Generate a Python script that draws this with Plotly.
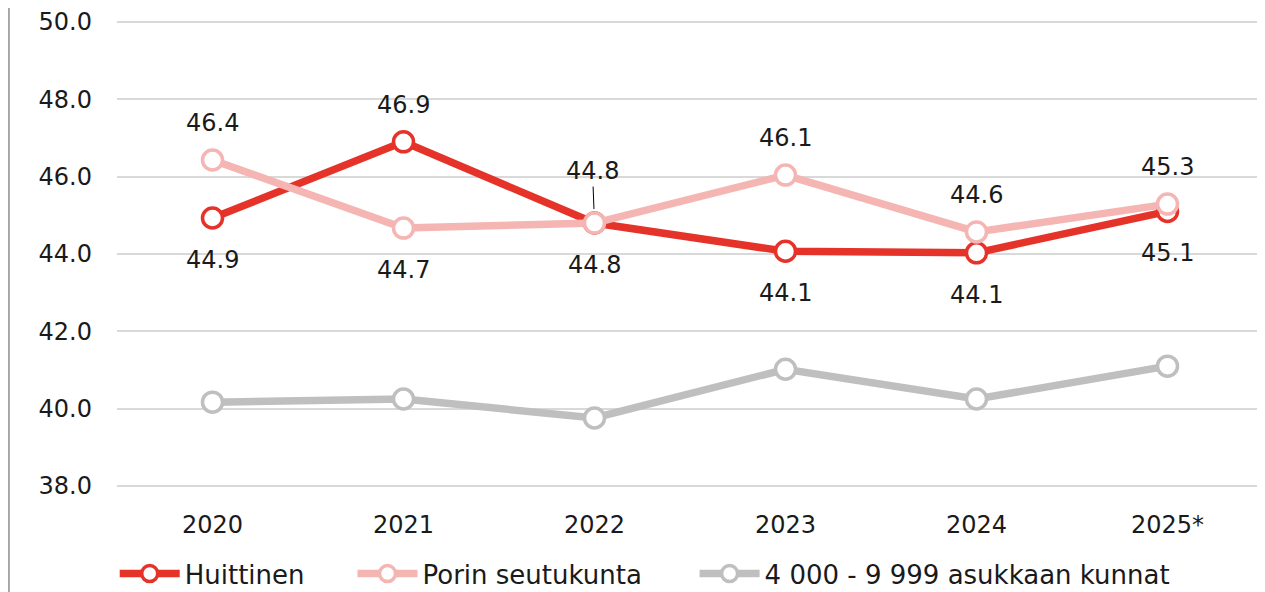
import plotly.graph_objects as go

years = ["2020", "2021", "2022", "2023", "2024", "2025*"]
huittinen = [44.93, 46.9, 44.8, 44.07, 44.03, 45.1]
huittinen_labels = ["44.9", "46.9", "44.8", "44.1", "44.1", "45.1"]
porin = [46.43, 44.67, 44.8, 46.04, 44.57, 45.29]
porin_labels = ["46.4", "44.7", "44.8", "46.1", "44.6", "45.3"]
kunnat = [40.17, 40.25, 39.76, 41.02, 40.25, 41.1]

names = ["Huittinen", "Porin seutukunta", "4 000 - 9 999 asukkaan kunnat"]
colors = ["#E5332A", "#F4B5B3", "#BFBFBF"]
legend_ids = ["legend", "legend2", "legend3"]
legend_x = [-0.002, 0.2055, 0.504]

FONT = "DejaVu Sans"
TXT = "#1a1a1a"

fig = go.Figure()
for name, vals, col, lg in zip(names, [huittinen, porin, kunnat], colors, legend_ids):
    fig.add_trace(go.Scatter(
        x=years, y=vals, name=name, mode="lines+markers", legend=lg,
        line=dict(color=col, width=7.5),
        marker=dict(size=20, color="white", line=dict(color=col, width=3.5)),
        cliponaxis=False,
    ))

annotations = []
for i, yr in enumerate(years):
    porin_above = porin[i] >= huittinen[i]
    for vals, labs, is_porin in [(huittinen, huittinen_labels, False), (porin, porin_labels, True)]:
        above = porin_above if is_porin else not porin_above
        if is_porin and abs(porin[i] - huittinen[i]) < 0.05:
            annotations.append(dict(
                x=i, y=vals[i], xref="x", yref="y", text=labs[i],
                showarrow=True, ax=-2, ay=-52, arrowhead=0, arrowwidth=1,
                arrowcolor="#000000", standoff=14,
                font=dict(family=FONT, size=24, color=TXT)))
        else:
            annotations.append(dict(
                x=i, y=vals[i], xref="x", yref="y", text=labs[i],
                showarrow=False, yshift=37 if above else -42,
                font=dict(family=FONT, size=24, color=TXT)))

legend_common = dict(orientation="h", y=-0.183, yanchor="middle", xanchor="left",
                     font=dict(family=FONT, size=26, color=TXT), itemwidth=60,
                     bgcolor="rgba(0,0,0,0)", borderwidth=0)
layout_legends = {}
for lg, lx in zip(legend_ids, legend_x):
    layout_legends[lg] = dict(legend_common, x=lx)

fig.update_layout(
    width=1257, height=584,
    margin=dict(l=109, r=2, t=12, b=104, autoexpand=False),
    paper_bgcolor="white", plot_bgcolor="white",
    font=dict(family=FONT, size=24, color=TXT),
    showlegend=True,
    annotations=annotations,
    shapes=[dict(type="line", xref="paper", yref="paper",
                 x0=-0.0943, x1=-0.0943, y0=-0.3, y1=1.1,
                 line=dict(color="#A6A6A6", width=2))],
    **layout_legends,
)
fig.update_xaxes(type="category", range=[-0.5, 5.5], showgrid=False, showline=False,
                 zeroline=False, ticks="", ticklabelstandoff=20,
                 tickfont=dict(family=FONT, size=24, color=TXT))
fig.update_yaxes(range=[37.95, 50.05], dtick=2, tick0=38, tickformat=".1f",
                 showgrid=True, gridcolor="#D9D9D9", gridwidth=1.5,
                 zeroline=False, showline=False, ticks="", ticklabelstandoff=24,
                 tickfont=dict(family=FONT, size=24, color=TXT))

fig.write_html("out.html")
